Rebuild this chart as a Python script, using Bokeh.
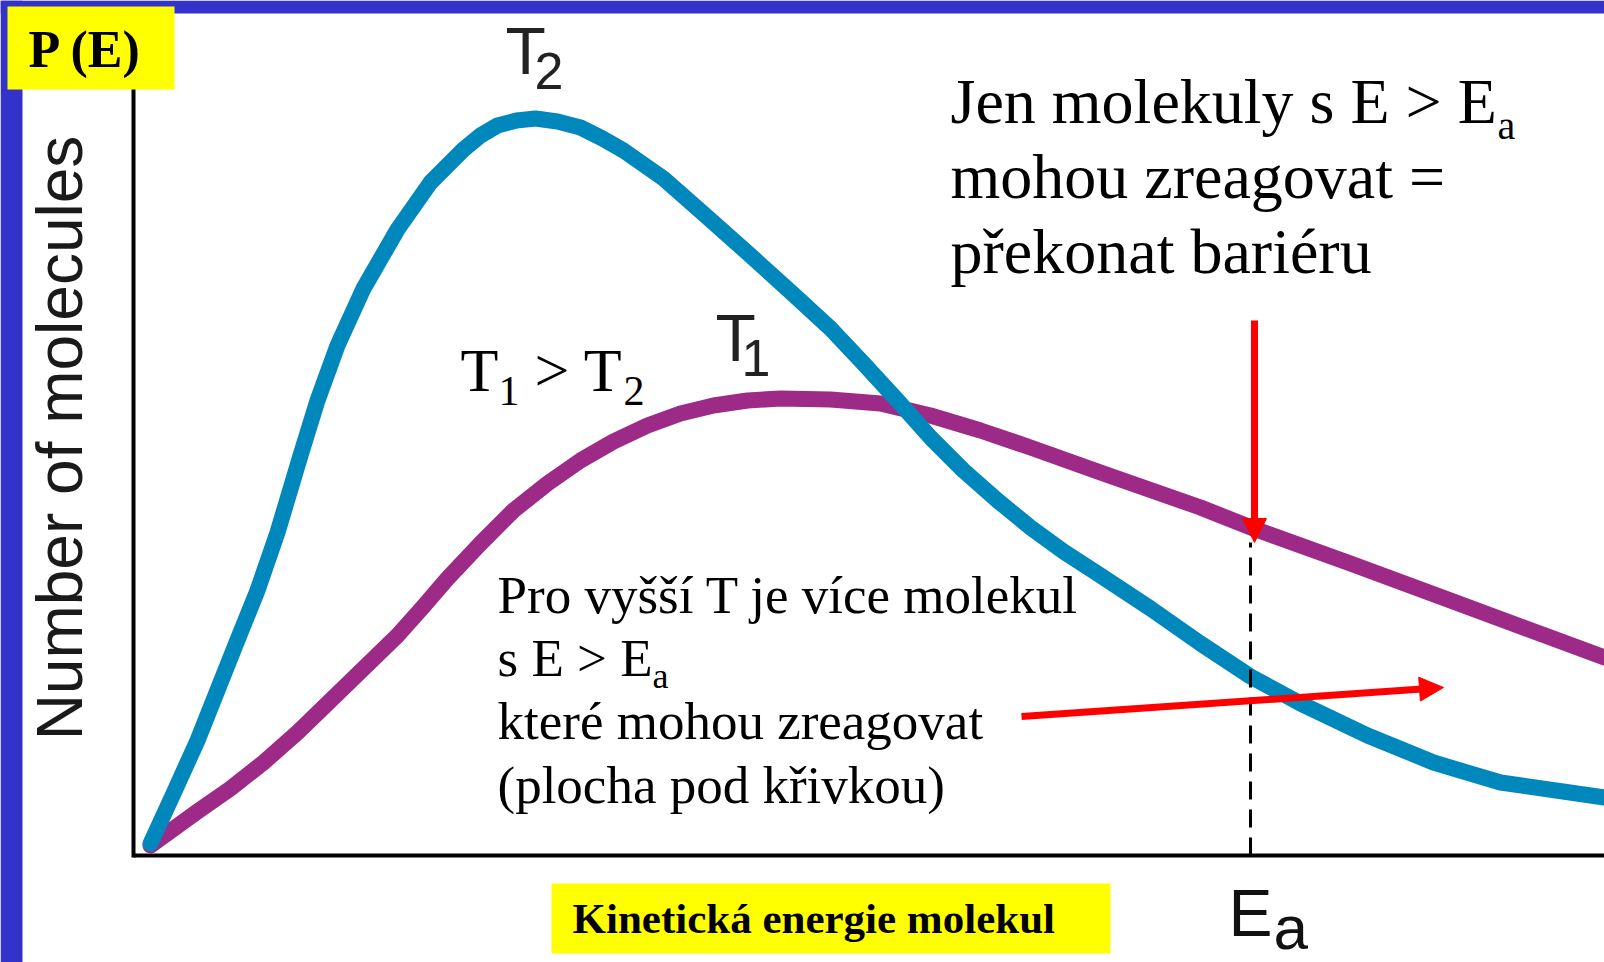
import math
from bokeh.plotting import figure
from bokeh.models import Range1d, Arrow, NormalHead
from bokeh.core.properties import value
from bokeh.embed import file_html
from bokeh.resources import INLINE

# ---------------- data (arbitrary units) ----------------
# T2 (lower temperature) distribution - blue
energy_T2 = [0.17, 0.40, 0.64, 1.03, 1.24, 1.44, 1.67, 1.84, 2.04, 2.30, 2.64, 2.97,
             3.30, 3.47, 3.64, 3.83, 4.02, 4.24, 4.47, 4.69, 4.90, 5.30, 5.72, 6.17,
             6.60, 6.97, 7.30, 7.64, 7.97, 8.30, 8.64, 8.97, 9.30, 9.67, 10.17, 10.67,
             11.17, 11.67, 12.34, 13.00, 13.67, 14.71]
count_T2 = [0.12, 0.62, 1.15, 2.13, 2.65, 3.23, 4.00, 4.55, 5.10, 5.67, 6.26, 6.73,
            7.06, 7.20, 7.30, 7.35, 7.37, 7.34, 7.28, 7.17, 7.05, 6.77, 6.40, 6.00,
            5.61, 5.27, 4.92, 4.55, 4.18, 3.85, 3.55, 3.28, 3.04, 2.80, 2.47, 2.12,
            1.79, 1.52, 1.20, 0.93, 0.73, 0.58]

# T1 (higher temperature) distribution - purple
energy_T1 = [0.17, 0.64, 0.97, 1.30, 1.64, 1.97, 2.30, 2.64, 2.89, 3.14, 3.47, 3.80,
             4.14, 4.47, 4.80, 5.14, 5.47, 5.80, 6.14, 6.47, 6.97, 7.47, 7.97, 8.47,
             8.97, 9.67, 10.67, 11.20, 12.17, 13.17, 14.17, 14.71]
count_T1 = [0.10, 0.44, 0.67, 0.93, 1.23, 1.55, 1.87, 2.20, 2.48, 2.77, 3.12, 3.45,
            3.72, 3.95, 4.14, 4.30, 4.42, 4.50, 4.55, 4.57, 4.56, 4.52, 4.40, 4.25,
            4.08, 3.83, 3.48, 3.27, 2.92, 2.55, 2.18, 1.98]

Ea = 11.17                      # activation energy
Ea_marker_top = 3.13            # where the Ea marker meets the T1 curve
Ea_arrow_start = 5.35           # start of the vertical arrow
area_arrow_x = [8.88, 13.10]    # arrow pointing to the area under the curve
area_arrow_y = [1.39, 1.68]

E_max = 14.71
axis_top = 8.47

# ---------------- figure ----------------
X0, X1 = -1.33, 14.71
Y0, Y1 = -1.07, 8.55

p = figure(width=1604, height=962, x_range=Range1d(X0, X1), y_range=Range1d(Y0, Y1),
           x_axis_type=None, y_axis_type=None, toolbar_location=None,
           output_backend="svg", min_border=0)
p.outline_line_color = None
p.background_fill_color = "white"
p.border_fill_color = "white"

BLUE_BAND = "#3333CC"
YELLOW = "#FFFF00"
C_T2 = "#0087BC"
C_T1 = "#9D2A87"
SERIF = value("Liberation Serif")
SANS = value("Liberation Sans")
MID = {"serif": 0.3375, "sans": 0.3465}   # (ascent - descent) / 2, in em

# slide frame bands
p.quad(left=[X0], right=[-1.11], bottom=[Y0], top=[Y1], fill_color=BLUE_BAND, line_color=None)
p.quad(left=[X0], right=[X1], bottom=[8.42], top=[Y1], fill_color=BLUE_BAND, line_color=None)

# axes lines
p.line([0, 0], [-0.02, axis_top], line_color="black", line_width=4)
p.line([0, E_max], [0, 0], line_color="black", line_width=4)

# curves
p.line(energy_T1, count_T1, line_color=C_T1, line_width=16, line_cap="round", line_join="round")
p.line(energy_T2, count_T2, line_color=C_T2, line_width=16, line_cap="round", line_join="round")

# Ea dashed marker
p.line([Ea, Ea], [0, Ea_marker_top], line_color="black", line_width=3, line_dash="18 10")

# red arrows
p.add_layout(Arrow(end=NormalHead(size=24, fill_color="#FF0000", line_color="#FF0000"),
                   x_start=Ea + 0.04, y_start=Ea_arrow_start, x_end=Ea + 0.04, y_end=Ea_marker_top,
                   line_color="#FF0000", line_width=7))
p.add_layout(Arrow(end=NormalHead(size=24, fill_color="#FF0000", line_color="#FF0000"),
                   x_start=area_arrow_x[0], y_start=area_arrow_y[0],
                   x_end=area_arrow_x[1], y_end=area_arrow_y[1],
                   line_color="#FF0000", line_width=7))


def txt(x, y, s, size, family="serif", style="normal", color="black", vertical=False, align="left"):
    """x, y: start of the text baseline (data units, 100 px per unit)."""
    font = SERIF if family == "serif" else SANS
    shift = MID[family] * size / 100.0
    if vertical:
        x, y, angle = x - shift, y, math.pi / 2
    else:
        x, y, angle = x, y + shift, 0
    p.text(x=[x], y=[y], text=[s], text_font=font, text_font_size=f"{size}px",
           text_font_style=style, text_color=color, angle=angle,
           text_align=align, text_baseline="middle")


# y axis label
txt(-0.51, 4.175, "Number of molecules", 64, family="sans", color="#1a1a1a",
    vertical=True, align="center")

# curve labels
txt(3.72, 7.82, "T", 66, family="sans", color="#222222")
txt(4.01, 7.66, "2", 52, family="sans", color="#222222")
txt(5.82, 4.95, "T", 66, family="sans", color="#222222")
txt(6.08, 4.79, "1", 52, family="sans", color="#222222")

# T1 > T2
txt(3.27, 4.65, "T", 62)
txt(3.65, 4.50, "1", 42)
txt(4.01, 4.65, "> T", 62)
txt(4.90, 4.50, "2", 42)

# top-right note
txt(8.17, 7.32, "Jen molekuly s E > E", 64)
txt(13.64, 7.17, "a", 40)
txt(8.17, 6.57, "mohou zreagovat =", 64)
txt(8.17, 5.82, "překonat bariéru", 64)

# lower note
txt(3.64, 2.43, "Pro vyšší T je více molekul", 53)
txt(3.64, 1.80, "s E > E", 53)
txt(5.19, 1.67, "a", 36)
txt(3.64, 1.17, "které mohou zreagovat", 53)
txt(3.64, 0.53, "(plocha pod křivkou)", 53)

# Ea tick label
txt(10.95, -0.80, "E", 66, family="sans", color="#111111")
txt(11.40, -0.93, "a", 62, family="sans", color="#111111")

# yellow boxes
p.quad(left=[-1.26], right=[0.41], bottom=[7.66], top=[8.49], fill_color=YELLOW, line_color=None)
txt(-1.05, 7.88, "P (E)", 52, style="bold")
p.quad(left=[4.18], right=[9.77], bottom=[-0.98], top=[-0.28], fill_color=YELLOW, line_color=None)
txt(4.39, -0.78, "Kinetická energie molekul", 43, style="bold")

open("out.html", "w").write(file_html(p, INLINE))
